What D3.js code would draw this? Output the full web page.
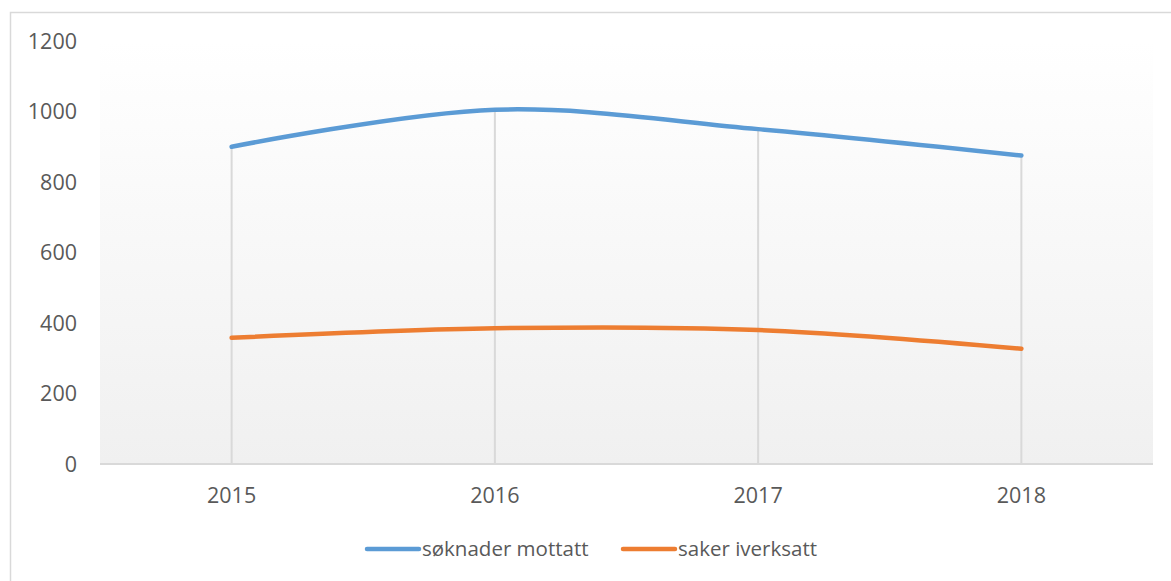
<!DOCTYPE html>
<html>
<head>
<meta charset="utf-8">
<script src="https://cdn.jsdelivr.net/npm/d3@7"></script>
<style>
  body { margin: 0; background: #fff; }
  text { font-family: "Open Sans", sans-serif; fill: #595959; }
</style>
</head>
<body>
<svg id="chart"></svg>
<script>
var years = ["2015", "2016", "2017", "2018"];
var soknader = [900, 1005, 950, 875];
var saker = [358, 385, 380, 327];
var yTicks = [0, 200, 400, 600, 800, 1000, 1200];
var seriesNames = ["søknader mottatt", "saker iverksatt"];
var seriesColors = ["#5b9bd5", "#ed7d31"];

var width = 1171, height = 581;
var svg = d3.select("#chart").attr("width", width).attr("height", height);

// outer chart border
svg.append("rect")
   .attr("x", 10.5).attr("y", 12.5)
   .attr("width", width).attr("height", height)
   .attr("fill", "none").attr("stroke", "#d9d9d9").attr("stroke-width", 1.5);

var plotLeft = 100, plotRight = 1153, plotTop = 41, plotBottom = 464;

var x = d3.scaleBand().domain(years).range([plotLeft, plotRight]);
var y = d3.scaleLinear().domain([0, 1200]).range([plotBottom, plotTop]);

var defs = svg.append("defs");
var grad = defs.append("linearGradient").attr("id", "bg")
   .attr("x1", 0).attr("y1", 0).attr("x2", 0).attr("y2", 1);
grad.append("stop").attr("offset", "0%").attr("stop-color", "#ffffff");
grad.append("stop").attr("offset", "100%").attr("stop-color", "#f0f0f0");

svg.append("rect")
   .attr("x", plotLeft).attr("y", plotTop)
   .attr("width", plotRight - plotLeft).attr("height", plotBottom - plotTop)
   .attr("fill", "url(#bg)");

// drop lines
svg.selectAll(".drop")
   .data(years)
   .enter().append("line")
   .attr("x1", function(d) { return x(d) + x.bandwidth() / 2; })
   .attr("x2", function(d) { return x(d) + x.bandwidth() / 2; })
   .attr("y1", function(d, i) { return y(Math.max(soknader[i], saker[i])); })
   .attr("y2", plotBottom)
   .attr("stroke", "#d9d9d9").attr("stroke-width", 2);

// x axis line
svg.append("line")
   .attr("x1", plotLeft).attr("x2", plotRight)
   .attr("y1", plotBottom).attr("y2", plotBottom)
   .attr("stroke", "#d9d9d9").attr("stroke-width", 2);

// y tick labels
svg.selectAll(".ytick")
   .data(yTicks)
   .enter().append("text")
   .attr("x", 77)
   .attr("y", function(d) { return y(d); })
   .attr("dy", "0.35em")
   .attr("text-anchor", "end")
   .attr("font-size", 21.5)
   .text(function(d) { return d; });

// x tick labels
svg.selectAll(".xtick")
   .data(years)
   .enter().append("text")
   .attr("x", function(d) { return x(d) + x.bandwidth() / 2; })
   .attr("y", 495)
   .attr("dy", "0.35em")
   .attr("text-anchor", "middle")
   .attr("font-size", 21.5)
   .text(function(d) { return d; });

var line = d3.line()
   .x(function(d, i) { return x(years[i]) + x.bandwidth() / 2; })
   .y(function(d) { return y(d); })
   .curve(d3.curveCatmullRom.alpha(0));

[soknader, saker].forEach(function(s, i) {
  svg.append("path")
     .attr("d", line(s))
     .attr("fill", "none")
     .attr("stroke", seriesColors[i])
     .attr("stroke-width", 4.5)
     .attr("stroke-linecap", "round");
});

// legend
var legendX = [367, 623];
seriesNames.forEach(function(name, i) {
  svg.append("line")
     .attr("x1", legendX[i]).attr("x2", legendX[i] + 52)
     .attr("y1", 549).attr("y2", 549)
     .attr("stroke", seriesColors[i]).attr("stroke-width", 4.5)
     .attr("stroke-linecap", "round");
  svg.append("text")
     .attr("x", legendX[i] + 55)
     .attr("y", 549)
     .attr("dy", "0.35em")
     .attr("font-size", 20.5)
     .text(name);
});
</script>
</body>
</html>
